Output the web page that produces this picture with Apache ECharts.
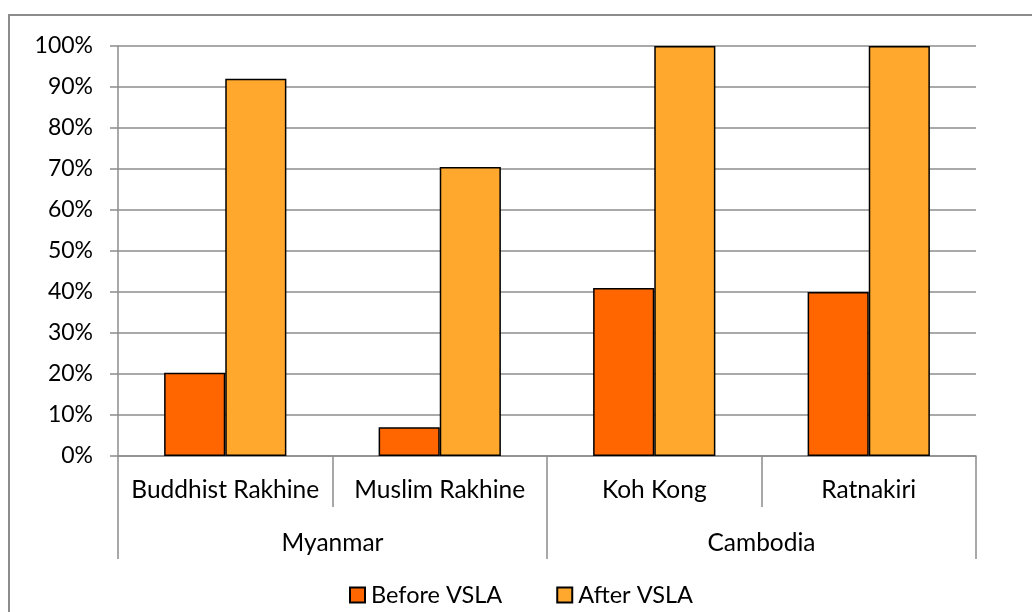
<!DOCTYPE html>
<html>
<head>
<meta charset="utf-8">
<script src="https://cdn.jsdelivr.net/npm/echarts@6/dist/echarts.min.js"></script>
<style>
  html, body { margin: 0; padding: 0; background: #fff; }
  #chart { width: 1032px; height: 612px; }
</style>
</head>
<body>
<div id="chart"></div>
<script>
var regions = ['Buddhist Rakhine', 'Muslim Rakhine', 'Koh Kong', 'Ratnakiri'];
var countries = ['Myanmar', 'Cambodia'];
var beforeVsla = [20.3, 7, 41, 40];
var afterVsla = [92, 70.5, 100, 100];

var gray = '#8c8c8c';
var font = 'Lato';

var myChart = echarts.init(document.getElementById('chart'));
var option = {
    backgroundColor: '#fff',
    animation: false,
    textStyle: { fontFamily: font, color: '#000' },
    graphic: [{
        type: 'rect',
        shape: { x: 9, y: 15, width: 1100, height: 700 },
        style: { fill: 'none', stroke: gray, lineWidth: 2 }
    }],
    grid: { left: 118, right: 56, top: 46, bottom: 156 },
    legend: {
        left: 344,
        top: 578,
        itemWidth: 15,
        itemHeight: 15,
        itemGap: 54,
        icon: 'rect',
        textStyle: { fontFamily: font, fontSize: 23.5, color: '#000', padding: [0, 0, 0, 1] },
        data: ['Before VSLA', 'After VSLA']
    },
    xAxis: [{
        type: 'category',
        data: regions,
        axisLine: { lineStyle: { color: gray, width: 1.5 } },
        axisTick: { show: true, interval: 0, length: 51, lineStyle: { color: gray, width: 1.5 } },
        axisLabel: { interval: 0, margin: 22, fontSize: 24.5, color: '#000', fontFamily: font }
    }, {
        type: 'category',
        data: countries,
        position: 'bottom',
        offset: 51,
        axisLine: { show: false },
        axisTick: { show: true, interval: 0, length: 52, lineStyle: { color: gray, width: 1.5 } },
        axisLabel: { interval: 0, margin: 24, fontSize: 24.5, color: '#000', fontFamily: font }
    }],
    yAxis: {
        type: 'value',
        min: 0,
        max: 100,
        interval: 10,
        axisLine: { show: true, lineStyle: { color: gray, width: 1.5 } },
        axisTick: { show: true, length: 8, lineStyle: { color: gray, width: 1.5 } },
        axisLabel: { formatter: '{value}%', margin: 25, fontSize: 23, color: '#000', fontFamily: font },
        splitLine: { lineStyle: { color: gray, width: 1.5 } }
    },
    series: [{
        name: 'Before VSLA',
        type: 'bar',
        barWidth: '28.5%',
        barGap: '0%',
        itemStyle: { color: '#ff6600', borderColor: '#000', borderWidth: 1.5 },
        data: beforeVsla
    }, {
        name: 'After VSLA',
        type: 'bar',
        barWidth: '28.5%',
        barGap: '0%',
        itemStyle: { color: '#ffa82d', borderColor: '#000', borderWidth: 1.5 },
        data: afterVsla
    }]
};
myChart.setOption(option);
</script>
</body>
</html>
